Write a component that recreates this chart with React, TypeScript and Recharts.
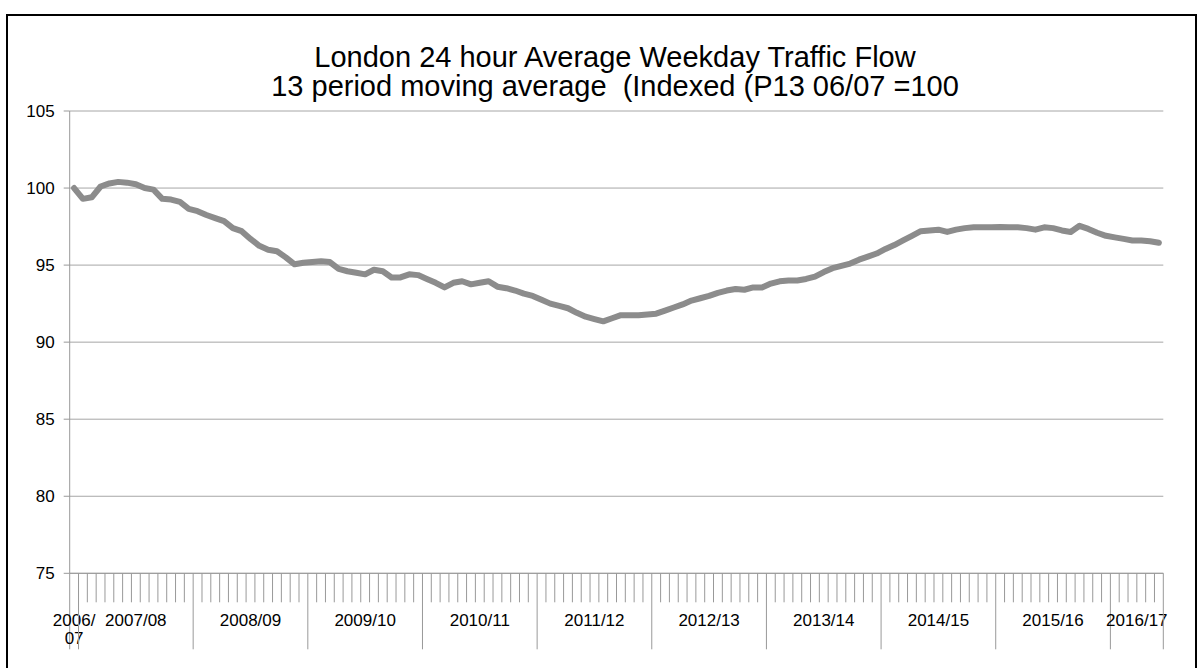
import React from 'react';
import { LineChart, Line, XAxis, YAxis, CartesianGrid } from 'recharts';

// financial years and how many 4-week periods each one contributes
const YEARS = ['2006/07', '2007/08', '2008/09', '2009/10', '2010/11', '2011/12', '2012/13', '2013/14', '2014/15', '2015/16', '2016/17'];
const PERIODS_PER_YEAR = [1, 13, 13, 13, 13, 13, 13, 13, 13, 13, 6];

// 13 period moving average, indexed P13 06/07 = 100
const FLOW_INDEX = [
  100.0, 99.3, 99.4, 100.1, 100.3, 100.4, 100.35, 100.25, 100.0, 99.9, 99.3, 99.25, 99.1,
  98.65, 98.5, 98.25, 98.05, 97.85, 97.4, 97.2, 96.7, 96.25, 96.0, 95.9, 95.5, 95.05,
  95.15, 95.2, 95.25, 95.2, 94.75, 94.6, 94.5, 94.4, 94.7, 94.6, 94.2, 94.2, 94.4,
  94.35, 94.1, 93.85, 93.55, 93.85, 93.95, 93.75, 93.85, 93.95, 93.6, 93.5, 93.35, 93.15,
  93.0, 92.75, 92.5, 92.35, 92.2, 91.9, 91.65, 91.5, 91.35, 91.55, 91.75, 91.75, 91.75,
  91.8, 91.85, 92.05, 92.25, 92.45, 92.7, 92.85, 93.0, 93.2, 93.35, 93.45, 93.4, 93.55,
  93.55, 93.8, 93.95, 94.0, 94.0, 94.1, 94.25, 94.55, 94.8, 94.95, 95.1, 95.35, 95.55,
  95.75, 96.05, 96.3, 96.6, 96.9, 97.2, 97.25, 97.3, 97.15, 97.3, 97.4, 97.45, 97.45,
  97.45, 97.47, 97.45, 97.45, 97.4, 97.3, 97.45, 97.4, 97.25, 97.15, 97.55, 97.35, 97.1,
  96.9, 96.8, 96.7, 96.6, 96.6, 96.55, 96.45,
];

const Y_TICKS = [75, 80, 85, 90, 95, 100, 105];

const FONT = '"Liberation Sans", Arial, sans-serif';
const AXIS_GREY = '#999999';

const data = FLOW_INDEX.map((v, i) => ({ pos: i + 0.5, v }));
const total = FLOW_INDEX.length;

// year boundaries and the centre of each year's span
const yearStarts: number[] = [0];
PERIODS_PER_YEAR.forEach((n, i) => yearStarts.push(yearStarts[i] + n));
const yearBounds = new Set(yearStarts);
const yearLabelAt = new Map<number, string>();
PERIODS_PER_YEAR.forEach((n, i) => yearLabelAt.set(yearStarts[i] + n / 2, YEARS[i]));

const periodTicks = Array.from({ length: total + 1 }, (_, i) => i);
const xTicks = Array.from(new Set([...periodTicks, ...yearLabelAt.keys()])).sort((a, b) => a - b);

const PeriodTick = (props: any) => {
  const { x, y, payload } = props;
  const v = payload.value;
  const isBoundary = Number.isInteger(v);
  const label = yearLabelAt.get(v);
  const narrow = label && PERIODS_PER_YEAR[YEARS.indexOf(label)] < 3;
  return (
    <g>
      {isBoundary && (
        <line x1={x} x2={x} y1={y} y2={y + (yearBounds.has(v) ? 76 : 29)} stroke={AXIS_GREY} strokeWidth={1} />
      )}
      {label && (
        <text x={x} y={y + 53} textAnchor="middle" fontSize={17} fontFamily={FONT} fill="#000">
          {narrow ? (
            <>
              <tspan x={x}>{label.slice(0, 5)}</tspan>
              <tspan x={x} dy={18}>{label.slice(5)}</tspan>
            </>
          ) : (
            label
          )}
        </text>
      )}
    </g>
  );
};

export default function App() {
  return (
    <div style={{ position: 'fixed', left: 0, top: 0, width: 1198, height: 668, overflow: 'hidden', background: '#fff' }}>
      <div
        style={{
          position: 'absolute',
          left: 6,
          top: 14,
          width: 1191,
          height: 700,
          border: '2px solid #000',
          boxSizing: 'border-box',
        }}
      />
      <div
        style={{
          position: 'absolute',
          left: 16,
          top: 43,
          width: 1198,
          textAlign: 'center',
          fontFamily: FONT,
          fontSize: 29,
          lineHeight: '29px',
          color: '#000',
          whiteSpace: 'pre',
        }}
      >
        {'London 24 hour Average Weekday Traffic Flow\n13 period moving average  (Indexed (P13 06/07 =100'}
      </div>
      <div style={{ position: 'absolute', left: 0, top: 0 }}>
        <LineChart width={1198} height={668} data={data} margin={{ top: 111, right: 34.7, left: 9.7, bottom: 14.7 }}>
          <CartesianGrid vertical={false} stroke="#a6a6a6" />
          <XAxis
            type="number"
            dataKey="pos"
            domain={[0, total]}
            ticks={xTicks}
            interval={0}
            tick={<PeriodTick />}
            tickLine={false}
            tickSize={0}
            tickMargin={0}
            axisLine={{ stroke: AXIS_GREY }}
            height={80}
          />
          <YAxis
            type="number"
            domain={[75, 105]}
            ticks={Y_TICKS}
            interval={0}
            width={60}
            tickSize={6}
            tickMargin={9}
            axisLine={{ stroke: AXIS_GREY }}
            tickLine={{ stroke: AXIS_GREY }}
            tick={{ fontSize: 17, fontFamily: FONT, fill: '#000' }}
          />
          <Line
            type="linear"
            dataKey="v"
            stroke="#8c8c8c"
            strokeWidth={6}
            strokeLinejoin="round"
            strokeLinecap="round"
            dot={false}
            isAnimationActive={false}
          />
        </LineChart>
      </div>
    </div>
  );
}
